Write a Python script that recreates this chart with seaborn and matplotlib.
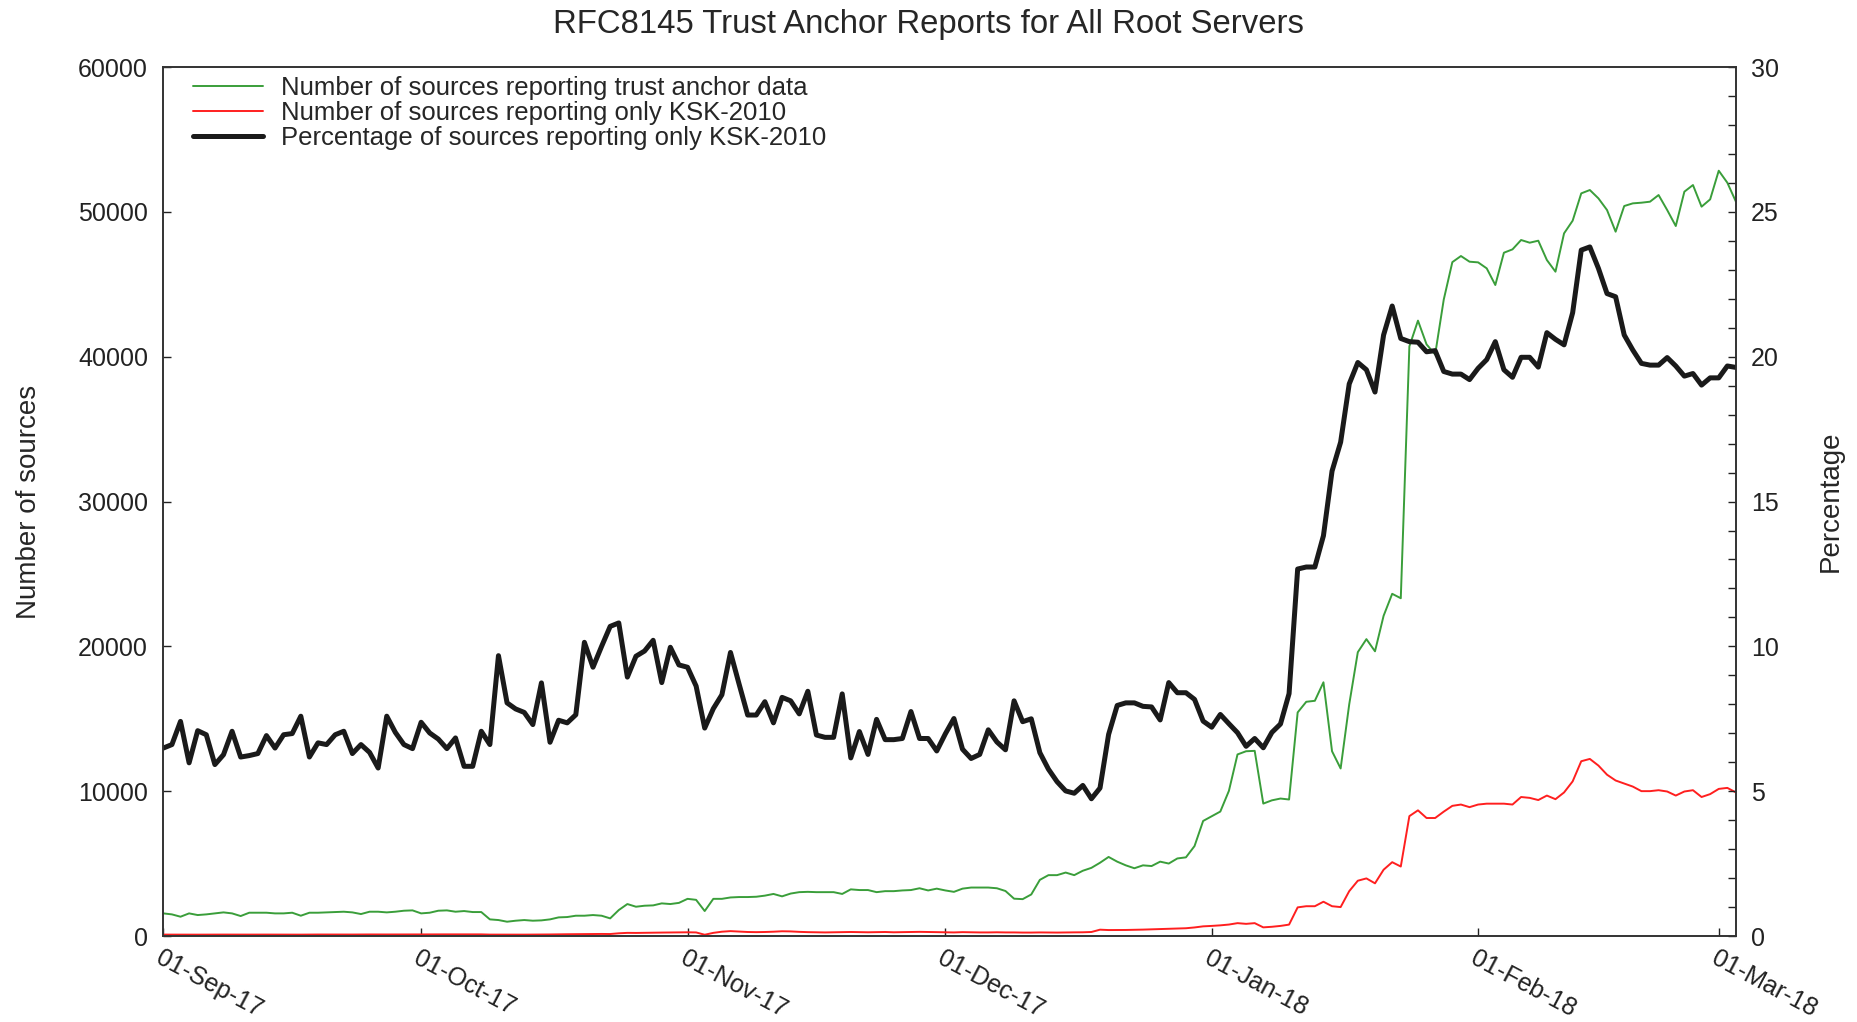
import matplotlib
matplotlib.use("Agg")
import matplotlib.pyplot as plt
import matplotlib.dates as mdates
from matplotlib.ticker import MultipleLocator
import pandas as pd
import seaborn as sns

# ---------------- data (one value per day from 01-Sep-2017) ----------------
start_date = "2017-09-01"

sources_total = [
    1565, 1496, 1335, 1565, 1450, 1496, 1565, 1634, 1565, 1381,
    1611, 1611, 1611, 1565, 1565, 1611, 1404, 1611, 1611, 1634,
    1657, 1680, 1634, 1519, 1680, 1680, 1634, 1680, 1749, 1772,
    1565, 1611, 1749, 1772, 1680, 1726, 1657, 1657, 1151, 1105,
    990, 1059, 1105, 1059, 1082, 1151, 1289, 1312, 1404, 1404,
    1450, 1404, 1220, 1795, 2210, 2025, 2094, 2117, 2256, 2210,
    2290, 2569, 2500, 1726, 2569, 2569, 2665, 2693, 2693, 2714,
    2790, 2907, 2741, 2934, 3031, 3052, 3031, 3031, 3031, 2907,
    3224, 3176, 3176, 3031, 3100, 3100, 3149, 3176, 3300,
    3149, 3273, 3149, 3052, 3273, 3349, 3349, 3349, 3300, 3110,
    2580, 2548, 2872, 3880, 4205, 4205, 4384, 4205, 4509, 4709,
    5061, 5462, 5137, 4882, 4681, 4882, 4833, 5137, 5006, 5358,
    5434, 6214, 7947, 8272, 8596, 10026, 12539, 12760, 12787, 9145,
    9370, 9494, 9428, 15440, 16175, 16243, 17520, 12760, 11570, 16000,
    19600, 20500, 19660, 22110, 23630, 23324, 40714, 42492, 40850, 40154,
    43945, 46530, 46952, 46560, 46514, 46100, 44950, 47180, 47412, 48057,
    47872, 48010, 46676, 45870, 48517, 49392, 51278, 51509, 50932, 50128,
    48632, 50404, 50588, 50634, 50703, 51163, 50128, 49023, 51394, 51854,
    50358, 50864, 52843, 52015, 50703,
]

sources_ksk2010 = [
    100, 98, 102, 100, 97, 100, 98, 102, 100, 97,
    100, 104, 102, 100, 104, 102, 98, 104, 106, 104,
    108, 106, 104, 108, 110, 106, 108, 112, 110, 108,
    112, 115, 112, 116, 115, 118, 116, 115, 100, 98,
    90, 95, 98, 100, 105, 110, 120, 125, 130, 135,
    140, 145, 140, 190, 220, 215, 225, 230, 240, 245,
    250, 260, 250, 90, 220, 300, 340, 310, 280, 270,
    280, 300, 330, 320, 290, 270, 260, 250, 260, 270,
    280, 270, 260, 270, 280, 260, 270, 280, 290,
    280, 270, 260, 250, 270, 260, 250, 250, 260, 250,
    250, 240, 240, 250, 245, 240, 250, 255, 260, 280,
    440, 414, 414, 420, 430, 445, 463, 480, 500, 520,
    539, 594, 670, 700, 739, 794, 891, 842, 891, 600,
    640, 700, 790, 1980, 2060, 2060, 2370, 2060, 2000, 3100,
    3820, 3980, 3640, 4580, 5100, 4800, 8280, 8680, 8150, 8150,
    8590, 8990, 9080, 8900, 9080, 9140, 9140, 9140, 9080, 9600,
    9540, 9390, 9700, 9450, 9915, 10680, 12070, 12230, 11770, 11140,
    10740, 10530, 10320, 10005, 10005, 10070, 9980, 9700, 9980, 10070,
    9600, 9800, 10160, 10230, 9915,
]

pct_ksk2010 = [
    6.49, 6.61, 7.41, 5.98, 7.09, 6.95, 5.92, 6.26, 7.07, 6.18,
    6.23, 6.30, 6.92, 6.49, 6.95, 6.99, 7.59, 6.18, 6.67, 6.61,
    6.95, 7.07, 6.30, 6.61, 6.34, 5.80, 7.59, 7.03, 6.61, 6.47,
    7.38, 7.01, 6.80, 6.47, 6.84, 5.86, 5.86, 7.07, 6.61, 9.68,
    8.05, 7.84, 7.72, 7.30, 8.74, 6.69, 7.45, 7.36, 7.64, 10.14,
    9.28, 10.00, 10.69, 10.81, 8.94, 9.66, 9.84, 10.21, 8.75, 9.97,
    9.36, 9.28, 8.63, 7.18, 7.85, 8.33, 9.79, 8.70, 7.63, 7.63,
    8.09, 7.36, 8.24, 8.12, 7.67, 8.45, 6.94, 6.86, 6.86, 8.36,
    6.15, 7.06, 6.27, 7.48, 6.78, 6.78, 6.82, 7.75, 6.82,
    6.82, 6.39, 6.98, 7.51, 6.45, 6.13, 6.27, 7.12, 6.70, 6.43,
    8.12, 7.40, 7.50, 6.33, 5.76, 5.33, 5.01, 4.93, 5.20, 4.74,
    5.11, 6.96, 7.96, 8.05, 8.05, 7.93, 7.91, 7.46, 8.75, 8.40,
    8.40, 8.17, 7.42, 7.21, 7.65, 7.33, 7.02, 6.55, 6.82, 6.50,
    7.03, 7.32, 8.37, 12.67, 12.74, 12.74, 13.82, 16.05, 17.05, 19.06,
    19.80, 19.55, 18.78, 20.75, 21.75, 20.63, 20.52, 20.50, 20.17, 20.21,
    19.49, 19.40, 19.40, 19.21, 19.60, 19.90, 20.52, 19.55, 19.29, 19.98,
    19.98, 19.64, 20.83, 20.60, 20.41, 21.52, 23.68, 23.79, 23.05, 22.18,
    22.07, 20.75, 20.23, 19.77, 19.71, 19.71, 19.97, 19.68, 19.33, 19.42,
    19.02, 19.27, 19.27, 19.68, 19.63,
]

labels = [
    "Number of sources reporting trust anchor data",
    "Number of sources reporting only KSK-2010",
    "Percentage of sources reporting only KSK-2010",
]
title = "RFC8145 Trust Anchor Reports for All Root Servers"

# ---------------- build table ----------------
dates = pd.date_range(start_date, periods=len(pct_ksk2010), freq="D")
df = pd.DataFrame({
    "date": dates,
    "total": sources_total,
    "ksk": sources_ksk2010,
    "pct": pct_ksk2010,
})

sns.set_theme(style="white")
plt.rcParams["font.family"] = ["Liberation Sans", "DejaVu Sans"]

fig = plt.figure(figsize=(18.58, 10.22), dpi=100)
ax = fig.add_axes([0.0879, 0.0841, 0.9343 - 0.0879, 0.9344 - 0.0841])
ax2 = ax.twinx()

green = "#3a9e3a"
red = "#ff1f1f"
black = "#1a1a1a"

sns.lineplot(data=df, x="date", y="total", ax=ax, color=green, lw=1.4, label=labels[0], legend=False)
sns.lineplot(data=df, x="date", y="ksk", ax=ax, color=red, lw=1.4, label=labels[1], legend=False)
sns.lineplot(data=df, x="date", y="pct", ax=ax2, color=black, lw=3.6, label=labels[2], legend=False)

ax.set_xlim(dates[0], dates[-1])
ax.set_ylim(0, 60000)
ax2.set_ylim(0, 30)

ax.yaxis.set_major_locator(MultipleLocator(10000))
ax2.yaxis.set_major_locator(MultipleLocator(5))
ax2.yaxis.set_minor_locator(MultipleLocator(1))
ax.xaxis.set_major_locator(mdates.MonthLocator())
ax.xaxis.set_major_formatter(mdates.DateFormatter("%d-%b-%y"))

ax.tick_params(axis="y", direction="in", length=5.5, width=1, labelsize=18, pad=11, left=True, right=False, colors="#222222")
ax.tick_params(axis="x", direction="in", length=5.5, width=1, labelsize=18, pad=7, bottom=True, top=False, colors="#222222")
ax2.tick_params(axis="y", which="both", direction="in", length=5.5, width=1, labelsize=18, pad=11, right=True, colors="#222222")
for lab in ax.get_xticklabels():
    lab.set_rotation(-28)
    lab.set_ha("left")
    lab.set_va("top")
    lab.set_rotation_mode("anchor")

ax.set_xlabel("")
ax.set_ylabel("Number of sources", fontsize=20, labelpad=26)
ax2.set_ylabel("Percentage", fontsize=20, labelpad=28)

for a in (ax, ax2):
    for s in a.spines.values():
        s.set_color("#333333")
        s.set_linewidth(1.2)

fig.suptitle(title, fontsize=23.7, y=0.976, va="center")

handles = ax.get_lines()[:2] + ax2.get_lines()[:1]
ax.legend(handles, labels, loc="upper left", bbox_to_anchor=(0.019, 0.99),
          frameon=False, fontsize=18.5, handlelength=2.7, handletextpad=0.7,
          labelspacing=0.05, borderpad=0, borderaxespad=0)

fig.savefig("out.png", dpi=100)
